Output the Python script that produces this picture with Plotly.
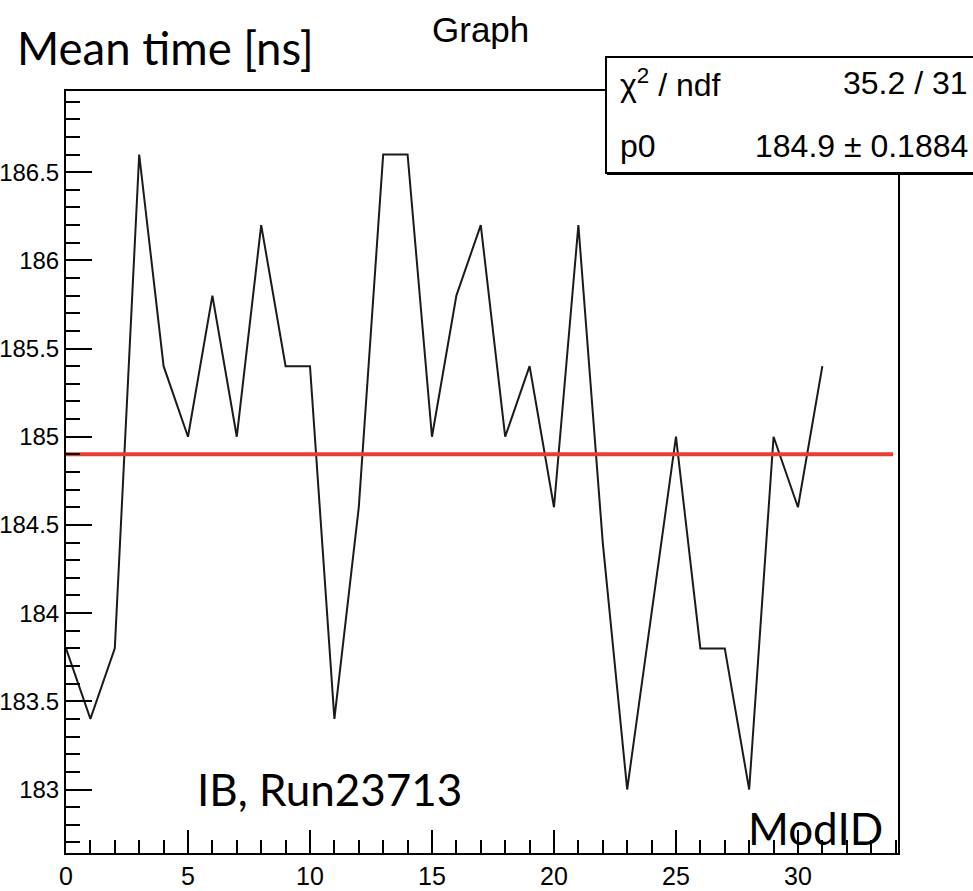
import plotly.graph_objects as go

# ---- data ----
mod_id = list(range(32))
mean_time = [183.8, 183.4, 183.8, 186.6, 185.4, 185.0, 185.8, 185.0, 186.2, 185.4,
             185.4, 183.4, 184.6, 186.6, 186.6, 185.0, 185.8, 186.2, 185.0, 185.4,
             184.6, 186.2, 184.4, 183.0, 184.0, 185.0, 183.8, 183.8, 183.0, 185.0,
             184.6, 185.4]
fit_p0 = 184.9
fit_x_range = [0, 33.9]
x_range = [0, 34.1]
y_range = [182.64, 186.96]
x_tickvals = [0, 5, 10, 15, 20, 25, 30]
x_ticktext = ["0", "5", "10", "15", "20", "25", "30"]
y_tickvals = [183, 183.5, 184, 184.5, 185, 185.5, 186, 186.5]
y_ticktext = ["183", "183.5", "184", "184.5", "185", "185.5", "186", "186.5"]
stat_rows = [("χ<sup>2</sup> / ndf", "35.2 / 31"), ("p0", "184.9 ± 0.1884")]

W, H = 973, 891
L, R, T, B = 66, 898, 91, 853
ROOTF = "Liberation Sans, Arial, Helvetica, sans-serif"
PPTF = "Lato, Carlito, Calibri, sans-serif"


def px(xp):
    return (xp - L) / (R - L)


def py(yp):
    return (B - yp) / (B - T)


fig = go.Figure()
fig.add_trace(go.Scatter(x=mod_id, y=mean_time, mode="lines",
                         line=dict(color="#1a1a1a", width=2), showlegend=False))
fig.add_trace(go.Scatter(x=fit_x_range, y=[fit_p0, fit_p0], mode="lines",
                         line=dict(color="rgb(230,62,50)", width=4), showlegend=False))

axis_common = dict(showline=True, linecolor="black", linewidth=2, mirror=True,
                   showgrid=False, zeroline=False, ticks="inside", tickcolor="black",
                   tickwidth=1.5, automargin=False)

fig.update_xaxes(range=x_range, tickvals=x_tickvals, ticktext=x_ticktext, ticklen=23,
                 tickfont=dict(family=ROOTF, size=25, color="black"),
                 minor=dict(dtick=1, tick0=0, ticklen=13, ticks="inside",
                            tickcolor="black", tickwidth=1.5),
                 **axis_common)
fig.update_yaxes(range=y_range, tickvals=y_tickvals, ticktext=y_ticktext, ticklen=26,
                 tickfont=dict(family=ROOTF, size=24, color="black"),
                 minor=dict(dtick=0.1, tick0=183, ticklen=14, ticks="inside",
                            tickcolor="black", tickwidth=1.5),
                 **axis_common)

shapes = [
    dict(type="rect", xref="paper", yref="paper", x0=px(606), x1=px(990),
         y0=py(173), y1=py(57), line=dict(color="black", width=2),
         fillcolor="white", layer="above"),
    dict(type="line", xref="paper", yref="paper", x0=px(607), x1=px(990),
         y0=py(173.5), y1=py(173.5), line=dict(color="black", width=3), layer="above"),
]

annotations = [
    dict(text="Graph", x=px(480), y=py(30), xref="paper", yref="paper",
         xanchor="center", yanchor="middle", showarrow=False,
         font=dict(family=ROOTF, size=35, color="black")),
    dict(text="Mean time [ns]", x=px(15), y=py(48), xref="paper", yref="paper",
         xanchor="left", yanchor="middle", showarrow=False,
         font=dict(family=PPTF, size=45.5, color="black")),
    dict(text="IB, Run23713", x=px(195), y=py(789), xref="paper", yref="paper",
         xanchor="left", yanchor="middle", showarrow=False,
         font=dict(family=PPTF, size=44, color="black")),
    dict(text="ModID", x=px(746), y=py(828), xref="paper", yref="paper",
         xanchor="left", yanchor="middle", showarrow=False,
         font=dict(family=PPTF, size=44, color="black")),
]
for i, (lab, val) in enumerate(stat_rows):
    yc = [83, 146][i]
    annotations.append(dict(text=lab, x=px(618), y=py(yc), xref="paper", yref="paper",
                            xanchor="left", yanchor="middle", showarrow=False,
                            font=dict(family=ROOTF, size=32, color="black")))
    annotations.append(dict(text=val, x=px(970), y=py(yc), xref="paper", yref="paper",
                            xanchor="right", yanchor="middle", showarrow=False,
                            font=dict(family=ROOTF, size=32, color="black")))

fig.update_layout(width=W, height=H, margin=dict(l=L, r=W - R, t=T, b=H - B),
                  plot_bgcolor="white", paper_bgcolor="white",
                  shapes=shapes, annotations=annotations, showlegend=False)

fig.write_html("out.html")
